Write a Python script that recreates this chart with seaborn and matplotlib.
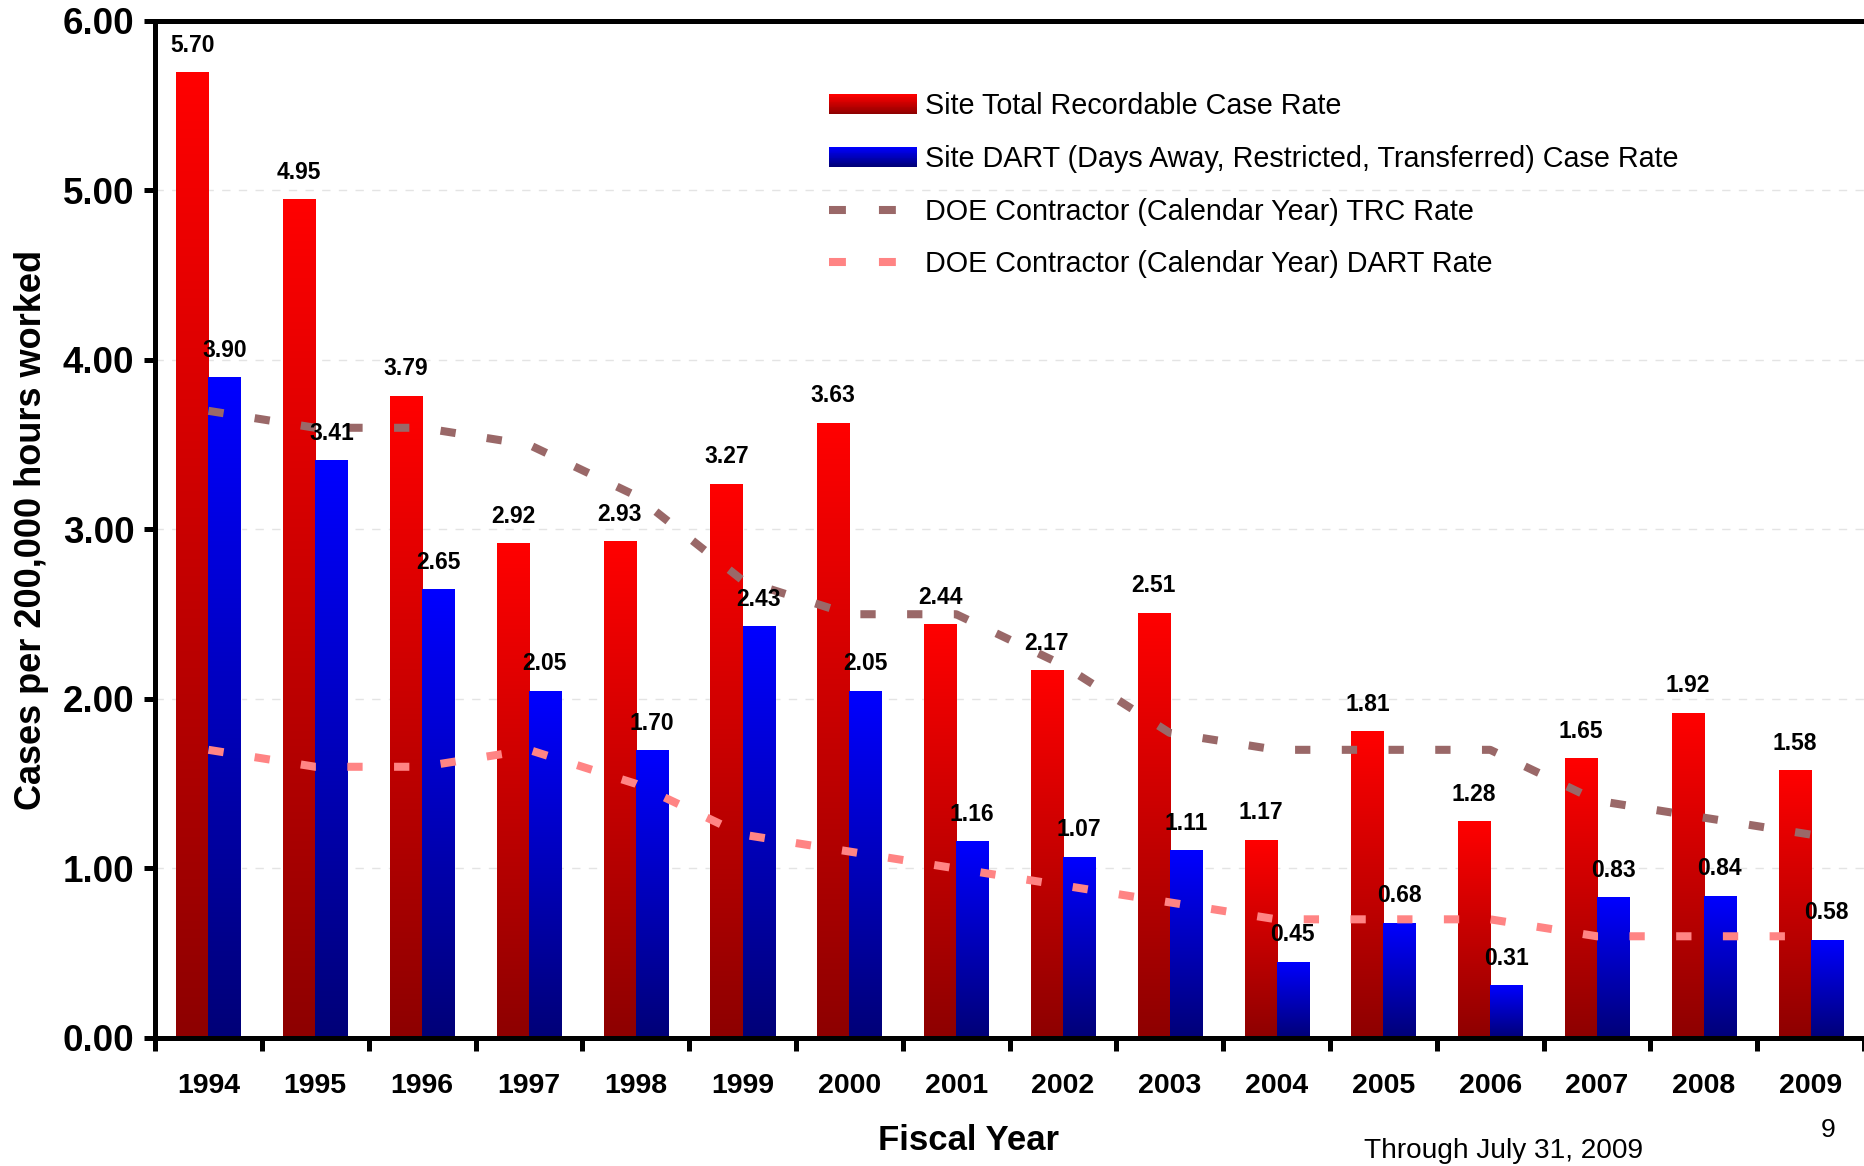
import numpy as np
import pandas as pd
import matplotlib
matplotlib.use("Agg")
import matplotlib.pyplot as plt
import matplotlib.ticker as mtick
from matplotlib.patches import Rectangle
from matplotlib.lines import Line2D
from matplotlib.legend_handler import HandlerBase
from matplotlib.colors import to_rgb
import seaborn as sns

# ── data ──────────────────────────────────────────────────────
years = ["1994", "1995", "1996", "1997", "1998", "1999", "2000", "2001",
         "2002", "2003", "2004", "2005", "2006", "2007", "2008", "2009"]
site_trc = [5.70, 4.95, 3.79, 2.92, 2.93, 3.27, 3.63, 2.44,
            2.17, 2.51, 1.17, 1.81, 1.28, 1.65, 1.92, 1.58]
site_dart = [3.90, 3.41, 2.65, 2.05, 1.70, 2.43, 2.05, 1.16,
             1.07, 1.11, 0.45, 0.68, 0.31, 0.83, 0.84, 0.58]
doe_trc = [3.7, 3.6, 3.6, 3.5, 3.2, 2.7, 2.5, 2.5,
           2.2, 1.8, 1.7, 1.7, 1.7, 1.4, 1.3, 1.2]
doe_dart = [1.7, 1.6, 1.6, 1.7, 1.5, 1.2, 1.1, 1.0,
            0.9, 0.8, 0.7, 0.7, 0.7, 0.6, 0.6, 0.6]

LBL_TRC = "Site Total Recordable Case Rate"
LBL_DART = "Site DART (Days Away, Restricted, Transferred) Case Rate"
LBL_DOE_TRC = "DOE Contractor (Calendar Year) TRC Rate"
LBL_DOE_DART = "DOE Contractor (Calendar Year) DART Rate"

RED_TOP, RED_BOT = "#FF0000", "#8E0000"
BLUE_TOP, BLUE_BOT = "#0000FF", "#000078"
TRC_LINE, DART_LINE = "#9A6868", "#FF8484"

df = pd.DataFrame({
    "Year": years * 2,
    "Rate": site_trc + site_dart,
    "Series": [LBL_TRC] * len(years) + [LBL_DART] * len(years),
})

sns.set_theme(style="white")
plt.rcParams["font.family"] = ["Liberation Sans", "DejaVu Sans"]
plt.rcParams.update({"text.color": "black", "axes.labelcolor": "black",
                     "xtick.color": "black", "ytick.color": "black"})


def gradient(top, bot, n=64):
    t = np.linspace(0, 1, n)[:, None]
    return (1 - t) * np.array(to_rgb(bot)) + t * np.array(to_rgb(top))


fig = plt.figure(figsize=(18.64, 11.66), dpi=100)
ax = fig.add_axes([0.0832, 0.1098, 0.9168, 0.8722])

sns.barplot(data=df, x="Year", y="Rate", hue="Series",
            palette=[RED_TOP, BLUE_TOP], width=0.6, gap=0,
            saturation=1, legend=False, ax=ax, zorder=2)

# gradient fill on each bar
for cont, (top, bot) in zip(ax.containers, [(RED_TOP, RED_BOT), (BLUE_TOP, BLUE_BOT)]):
    grad = gradient(top, bot)[:, None, :]
    for p in cont.patches:
        x0, y0 = p.get_x(), p.get_y()
        w, h = p.get_width(), p.get_height()
        im = ax.imshow(grad, extent=[x0, x0 + w, y0, y0 + h], origin="lower",
                       aspect="auto", interpolation="bilinear", zorder=2.1)
        im.set_clip_path(p)

xpos = np.arange(len(years))
lw = 5.8
sns.lineplot(x=xpos, y=doe_trc, color=TRC_LINE, lw=lw,
             linestyle=(0, (1.9, 3.9)), ax=ax, zorder=3)
sns.lineplot(x=xpos, y=doe_dart, color=DART_LINE, lw=lw,
             linestyle=(0, (1.9, 3.9)), ax=ax, zorder=3)

# value labels
for cont in ax.containers:
    ax.bar_label(cont, fmt="%.2f", padding=11, fontsize=16.5,
                 fontweight="bold", color="black", zorder=5)

ax.set_xlim(-0.5, len(years) - 0.5)
ax.set_ylim(0, 6)
ax.yaxis.set_major_locator(mtick.MultipleLocator(1))
ax.yaxis.set_major_formatter(mtick.FormatStrFormatter("%.2f"))
ax.yaxis.grid(True, color="#e4e4e4", lw=1, linestyle=(0, (6, 6)), zorder=0)
ax.set_axisbelow(True)

for side in ["left", "bottom", "top"]:
    ax.spines[side].set_color("black")
    ax.spines[side].set_linewidth(3.6)
ax.spines["right"].set_visible(False)

ax.tick_params(axis="y", which="major", length=8, width=3.6, color="black",
               labelcolor="black", labelsize=26.5, pad=7, direction="out",
               left=True)
ax.set_xticks(xpos)
ax.set_xticks(np.arange(-0.5, len(years), 1), minor=True)
ax.tick_params(axis="x", which="major", length=0, labelsize=20.5, pad=25,
               labelcolor="black")
ax.tick_params(axis="x", which="minor", length=9, width=3.6, color="black",
               direction="out", bottom=True)
for lab in ax.get_xticklabels() + ax.get_yticklabels():
    lab.set_fontweight("bold")

ax.set_xlabel("Fiscal Year", fontsize=25, fontweight="bold", color="black")
ax.xaxis.set_label_coords(0.476, -0.085)
ax.set_ylabel("Cases per 200,000 hours worked", fontsize=26,
              fontweight="bold", color="black")
ax.yaxis.label.set_va("center")
ax.yaxis.set_label_coords(-0.0725, 0.5)


# legend with gradient patch handles
class HandlerGradient(HandlerBase):
    def __init__(self, top, bot, n=24):
        super().__init__()
        self.top, self.bot, self.n = top, bot, n

    def create_artists(self, legend, orig_handle, xdescent, ydescent,
                       width, height, fontsize, trans):
        cols = gradient(self.top, self.bot, self.n)
        step = height / self.n
        arts = []
        for i, c in enumerate(cols):
            arts.append(Rectangle((-xdescent, -ydescent + i * step), width,
                                  step * 1.05, facecolor=c, edgecolor="none",
                                  transform=trans))
        return arts


h_trc = Rectangle((0, 0), 1, 1)
h_dart = Rectangle((0, 0), 1, 1)
h_doe_trc = Line2D([], [], color=TRC_LINE, lw=lw, linestyle=(0, (2.1, 4.1)))
h_doe_dart = Line2D([], [], color=DART_LINE, lw=lw, linestyle=(0, (2.1, 4.1)))
ax.legend([h_trc, h_dart, h_doe_trc, h_doe_dart],
          [LBL_TRC, LBL_DART, LBL_DOE_TRC, LBL_DOE_DART],
          handler_map={h_trc: HandlerGradient(RED_TOP, RED_BOT),
                       h_dart: HandlerGradient(BLUE_TOP, BLUE_BOT)},
          loc="upper left", bbox_to_anchor=(0.445, 0.921),
          bbox_transform=fig.transFigure, frameon=False, fontsize=20.7,
          labelcolor="black",
          handlelength=3.05, handletextpad=0.28, labelspacing=0.86,
          borderpad=0, borderaxespad=0)

fig.text(0.7318, 0.0125, "Through July 31, 2009", fontsize=20.2,
         ha="left", va="center", color="black")
fig.text(0.981, 0.031, "9", fontsize=19, ha="center", va="center",
         color="black")

fig.savefig("out.png", dpi=100)
